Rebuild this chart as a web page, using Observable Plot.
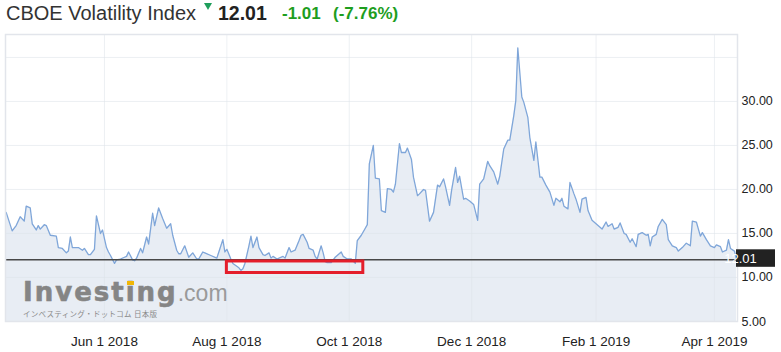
<!DOCTYPE html>
<html>
<head>
<meta charset="utf-8">
<script src="https://cdn.jsdelivr.net/npm/d3@7"></script>
<script src="https://cdn.jsdelivr.net/npm/@observablehq/plot@0.6"></script>
<style>
  body { margin: 0; background: #fff; font-family: Arial, "Liberation Sans", sans-serif; }
  #wrap { position: relative; width: 781px; height: 352px; overflow: hidden; }
  #header { position: relative; height: 30px; }
  .h { position: absolute; white-space: nowrap; line-height: 1; }
  #title { left: 6px; top: 3px; font-size: 20px; color: #333; }
  #tri { position: absolute; left: 204px; top: 3px; width: 0; height: 0;
         border-left: 4px solid transparent; border-right: 4px solid transparent; border-top: 7px solid #1f9e5c; }
  #last { left: 218px; top: 3.5px; font-size: 19.5px; font-weight: bold; color: #222; }
  #chg { left: 282px; top: 5px; font-size: 17px; font-weight: bold; color: #1e9e1e; }
  #pct { left: 333px; top: 5px; font-size: 17px; font-weight: bold; color: #1e9e1e; }
  #wm { position: absolute; left: 23px; top: 279px; pointer-events: none; }
  #wm .inv { font-family: "DejaVu Sans", sans-serif; font-weight: bold; font-size: 26px; letter-spacing: 2px; color: #858585; line-height: 26px; -webkit-text-stroke: 0.6px #858585; }
  #wm .com { font-family: Arial, "Liberation Sans", sans-serif; font-size: 23px; color: #9a9a9a; line-height: 26px; }
  #wm .jp { font-family: "Noto Sans CJK JP", sans-serif; font-size: 7.5px; color: #8a8a8a; margin-top: 2px; letter-spacing: 0.3px; }
  #acc { position: absolute; left: 127px; top: 281px; width: 7px; height: 4px; background: #f2b705; }
</style>
</head>
<body>
<div id="wrap">
  <div id="header">
    <div class="h" id="title">CBOE Volatility Index</div>
    <div id="tri"></div>
    <div class="h" id="last">12.01</div>
    <div class="h" id="chg">-1.01</div>
    <div class="h" id="pct">(-7.76%)</div>
  </div>
  <div id="chart"></div>
  <div id="wm"><span class="inv">Investing</span><span class="com">.com</span><div class="jp">インベスティング・ドットコム 日本版</div></div>
  <div id="acc"></div>
</div>
<script>
const dates = [
"2018-04-13","2018-04-16","2018-04-18","2018-04-20","2018-04-22","2018-04-23","2018-04-25","2018-04-26","2018-04-28","2018-04-29","2018-04-30",
"2018-05-02","2018-05-03","2018-05-05","2018-05-08","2018-05-09","2018-05-11","2018-05-13","2018-05-14","2018-05-15","2018-05-16","2018-05-19",
"2018-05-21","2018-05-22","2018-05-24","2018-05-25","2018-05-27","2018-05-28","2018-05-30","2018-05-31",
"2018-06-02","2018-06-03","2018-06-04","2018-06-06","2018-06-07","2018-06-09","2018-06-11","2018-06-12","2018-06-13","2018-06-15","2018-06-16",
"2018-06-17","2018-06-19","2018-06-20","2018-06-22","2018-06-23","2018-06-25","2018-06-26","2018-06-28","2018-06-30",
"2018-07-02","2018-07-04","2018-07-05","2018-07-07","2018-07-08","2018-07-09","2018-07-11","2018-07-13","2018-07-15","2018-07-17","2018-07-18",
"2018-07-20","2018-07-21","2018-07-24","2018-07-27","2018-07-28","2018-07-30","2018-07-31",
"2018-08-01","2018-08-03","2018-08-04","2018-08-07","2018-08-08","2018-08-09","2018-08-10","2018-08-12","2018-08-13","2018-08-14","2018-08-16",
"2018-08-17","2018-08-19","2018-08-20","2018-08-22","2018-08-23","2018-08-24","2018-08-26","2018-08-29","2018-08-30",
"2018-09-01","2018-09-02","2018-09-04","2018-09-06","2018-09-07","2018-09-08","2018-09-10","2018-09-11","2018-09-13","2018-09-14","2018-09-15",
"2018-09-17","2018-09-18","2018-09-19","2018-09-20","2018-09-22","2018-09-24","2018-09-25","2018-09-27","2018-09-28","2018-09-30",
"2018-10-02","2018-10-04","2018-10-05","2018-10-07","2018-10-09","2018-10-10","2018-10-11","2018-10-13","2018-10-14","2018-10-16","2018-10-17",
"2018-10-19","2018-10-20","2018-10-22","2018-10-23","2018-10-24","2018-10-26","2018-10-27","2018-10-29","2018-10-30",
"2018-11-01","2018-11-02","2018-11-04","2018-11-05","2018-11-07","2018-11-08","2018-11-10","2018-11-12","2018-11-14","2018-11-15","2018-11-17",
"2018-11-18","2018-11-20","2018-11-21","2018-11-23","2018-11-24","2018-11-25","2018-11-27","2018-11-28","2018-11-30",
"2018-12-02","2018-12-04","2018-12-05","2018-12-07","2018-12-09","2018-12-10","2018-12-12","2018-12-14","2018-12-15","2018-12-17","2018-12-19",
"2018-12-20","2018-12-22","2018-12-23","2018-12-24","2018-12-26","2018-12-27","2018-12-29","2018-12-30",
"2019-01-01","2019-01-02","2019-01-04","2019-01-05","2019-01-07","2019-01-09","2019-01-11","2019-01-12","2019-01-14","2019-01-15","2019-01-16",
"2019-01-18","2019-01-19","2019-01-21","2019-01-22","2019-01-24","2019-01-25","2019-01-27","2019-01-28","2019-01-30",
"2019-02-02","2019-02-04","2019-02-06","2019-02-07","2019-02-09","2019-02-10","2019-02-12","2019-02-13","2019-02-15","2019-02-16","2019-02-18",
"2019-02-19","2019-02-21","2019-02-22","2019-02-24","2019-02-26","2019-02-27","2019-02-28",
"2019-03-01","2019-03-03","2019-03-04","2019-03-06","2019-03-08","2019-03-09","2019-03-11","2019-03-13","2019-03-14","2019-03-16","2019-03-18",
"2019-03-20","2019-03-21","2019-03-23","2019-03-25","2019-03-26","2019-03-28","2019-03-30",
"2019-04-01","2019-04-02","2019-04-04","2019-04-05","2019-04-07","2019-04-08","2019-04-09","2019-04-11","2019-04-12"
];
const values = [
17.4,15.3,15.9,16.9,16.4,18.1,17.9,16.1,15.4,15.9,15.5,
16.0,15.9,14.8,14.7,13.4,13.3,12.8,13.0,14.6,13.4,13.4,
13.1,13.3,12.6,12.6,13.2,17.0,15.0,15.4,
13.4,12.9,12.5,11.6,12.0,12.1,12.3,12.4,12.9,12.0,11.9,
12.2,13.3,12.8,14.6,13.8,17.3,15.9,17.9,16.7,
15.6,16.1,14.8,13.1,12.7,12.7,13.6,12.3,12.8,12.1,12.1,
12.9,12.8,12.5,12.2,12.9,14.3,12.9,
13.2,12.1,11.6,11.1,10.8,11.0,11.6,13.6,14.7,13.4,14.6,
13.4,12.6,12.5,12.8,12.2,12.4,12.1,12.4,12.2,
13.4,12.9,13.1,14.2,14.8,14.9,14.0,13.3,13.1,12.4,12.1,
13.6,12.8,11.8,11.7,11.7,12.3,12.5,12.9,12.4,12.1,
12.1,11.6,14.2,14.8,15.6,16.0,22.9,25.0,21.3,21.2,17.6,
17.4,20.1,20.0,19.7,20.6,25.2,24.2,24.2,24.7,
23.4,21.4,19.3,19.5,20.0,19.9,16.4,17.4,20.5,20.3,21.2,
20.3,18.2,19.9,22.5,20.8,21.5,18.9,19.0,18.7,
18.3,16.5,20.6,21.2,23.2,22.7,22.0,20.6,21.5,24.6,25.6,
25.6,28.4,30.1,36.1,30.5,29.9,28.2,25.9,
23.3,25.4,21.4,21.4,20.5,19.7,18.2,19.0,18.6,19.0,18.1,
17.8,20.8,19.5,18.9,17.4,18.9,19.1,17.6,16.5,
15.9,15.5,16.3,15.8,16.1,15.5,15.7,16.2,15.0,14.9,14.0,
14.4,13.5,14.9,15.1,14.8,14.9,13.6,
14.6,14.9,15.8,16.6,16.0,14.3,13.6,13.4,13.0,13.4,13.9,
13.6,16.4,16.3,14.7,15.1,14.3,13.6,
13.4,13.7,13.5,12.9,13.1,14.3,13.3,13.0,12.01
];
const lastValue = 12.01;
const yTicks = [5, 10, 15, 20, 25, 30];
const yGrid = [5, 10, 15, 20, 25, 30, 35];
const xTickDates = ["2018-06-01","2018-08-01","2018-10-01","2018-12-01","2019-02-01","2019-04-01"];
// red highlight annotation
const boxStart = ["2018-08-01"], boxEnd = ["2018-10-08"], boxLow = [10.51], boxHigh = [11.82];

const data = dates.map((d, i) => ({date: new Date(d), value: values[i]}));
const xTicks = xTickDates.map(d => new Date(d));
const box = boxStart.map((d, i) => ({x1: new Date(d), x2: new Date(boxEnd[i]), y1: boxLow[i], y2: boxHigh[i]}));

const chart = Plot.plot({
  width: 781,
  height: 322,
  marginLeft: 5,
  marginRight: 44,
  marginTop: 4,
  marginBottom: 31,
  style: {fontFamily: "Arial, 'Liberation Sans', sans-serif", color: "#333", background: "#fff", overflow: "visible"},
  x: {type: "utc", domain: [new Date("2018-04-12T16:00Z"), new Date("2019-04-12T12:00Z")]},
  y: {domain: [5, 37.61]},
  marks: [
    Plot.areaY(data, {x: "date", y1: 5, y2: "value", fill: "#e8edf4"}),
    Plot.ruleY(yGrid, {stroke: "#dfe3ea", strokeOpacity: 0.55}),
    Plot.ruleX(xTicks, {stroke: "#dfe3ea", strokeOpacity: 0.55}),
    Plot.lineY(data, {x: "date", y: "value", stroke: "#7fa6d9", strokeWidth: 1.3}),
    Plot.ruleY([lastValue], {stroke: "#474747", strokeWidth: 1.6}),
    Plot.rect(box, {x1: "x1", x2: "x2", y1: "y1", y2: "y2", fill: "none", stroke: "#e41e2b", strokeWidth: 3}),
    Plot.frame({stroke: "#e2e5eb", strokeWidth: 1.5}),
    Plot.axisY({anchor: "right", ticks: yTicks, tickFormat: d => d.toFixed(2), tickSize: 0, tickPadding: 4, label: null, fontSize: 12.5, fill: "#222"}),
    Plot.axisX({ticks: xTicks, tickFormat: d3.utcFormat("%b %-d %Y"), tickSize: 0, tickPadding: 15, label: null, fontSize: 13.5, fill: "#222"})
  ]
});
document.getElementById("chart").appendChild(chart);

// last-value badge on the right, positioned through the plot's own scales
const yScale = chart.scale("y"), xScale = chart.scale("x");
const yPix = yScale.apply(lastValue);
const xRight = xScale.range[1];
const badge = d3.select(chart).append("g");
badge.append("rect").attr("x", xRight - 1).attr("y", yPix - 10).attr("width", 39).attr("height", 17.5).attr("fill", "#222");
badge.append("text").attr("x", xRight + 3.5).attr("y", yPix - 1.2).attr("dy", "0.35em")
  .attr("fill", "#fff").attr("font-size", 13).attr("font-family", "Arial, 'Liberation Sans', sans-serif")
  .text(lastValue.toFixed(2));
</script>
</body>
</html>
